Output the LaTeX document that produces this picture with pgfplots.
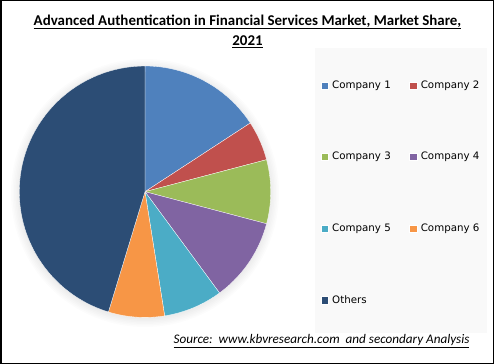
\documentclass[border=0pt]{standalone}
\usepackage{pgfplots}
\pgfplotsset{compat=1.18}
\usepackage{pgfplotstable}
\usepackage{fontspec}
\setmainfont{Carlito}
\newfontfamily\legfont{DejaVu Sans}
\definecolor{c1}{HTML}{4F81BD}
\definecolor{c2}{HTML}{C0504D}
\definecolor{c3}{HTML}{9BBB59}
\definecolor{c4}{HTML}{8064A2}
\definecolor{c5}{HTML}{4BACC6}
\definecolor{c6}{HTML}{F79646}
\definecolor{c7}{HTML}{2C4D75}
\definecolor{legbg}{HTML}{F9F9F9}
% market shares (%)
\pgfplotstableread{
name share
C1 15.8
C2 5.1
C3 8.2
C4 10.8
C5 7.6
C6 7.2
Others 45.3
}\shares
\pgfplotstablegetelem{0}{share}\of\shares \pgfmathsetmacro\sA{\pgfplotsretval}
\pgfplotstablegetelem{1}{share}\of\shares \pgfmathsetmacro\sB{\sA+\pgfplotsretval}
\pgfplotstablegetelem{2}{share}\of\shares \pgfmathsetmacro\sC{\sB+\pgfplotsretval}
\pgfplotstablegetelem{3}{share}\of\shares \pgfmathsetmacro\sD{\sC+\pgfplotsretval}
\pgfplotstablegetelem{4}{share}\of\shares \pgfmathsetmacro\sE{\sD+\pgfplotsretval}
\pgfplotstablegetelem{5}{share}\of\shares \pgfmathsetmacro\sF{\sE+\pgfplotsretval}
\pgfplotstablegetelem{6}{share}\of\shares \pgfmathsetmacro\sG{\sF+\pgfplotsretval}
\def\cx{145}\def\cy{191.7}\def\rad{125.7}
\begin{document}
\begin{tikzpicture}
\begin{axis}[
  width=494bp, height=364bp, scale only axis,
  xmin=0, xmax=494, ymin=0, ymax=364, y dir=reverse,
  hide axis, clip=false,
  legend columns=2, legend cell align=left,
  legend image code/.code={\fill[#1] (0bp,-3.6bp) rectangle (7.2bp,3.6bp);},
  legend style={draw=none, fill=none, at={(axis cs:320.5,79)}, anchor=north west,
    font=\legfont\fontsize{10.3}{12}\selectfont, row sep=59.5bp, inner sep=0pt,
    /tikz/every even column/.append style={column sep=17bp},
    /tikz/every odd column/.append style={column sep=2.5bp},
    nodes={inner sep=1.5bp}},
  slice/.style={draw=white, line width=0.3bp, samples=60, variable=\t},
]
% background decorations
\fill[legbg] (axis cs:315,48) rectangle (axis cs:487,333);
\pgfplotsinvokeforeach{126.5,128,129.5,131,132.5,134}{
  \fill[black, opacity=0.013] (axis cs:145,193) circle[radius=#1bp];
}
% slices
\addplot[slice, fill=c1, domain=0:\sA] ({\cx+\rad*sin(\t*3.6)}, {\cy-\rad*cos(\t*3.6)}) -- (axis cs:145,191.7) -- cycle;
\addlegendentry{Company 1}
\addplot[slice, fill=c2, domain=\sA:\sB] ({\cx+\rad*sin(\t*3.6)}, {\cy-\rad*cos(\t*3.6)}) -- (axis cs:145,191.7) -- cycle;
\addlegendentry{Company 2}
\addplot[slice, fill=c3, domain=\sB:\sC] ({\cx+\rad*sin(\t*3.6)}, {\cy-\rad*cos(\t*3.6)}) -- (axis cs:145,191.7) -- cycle;
\addlegendentry{Company 3}
\addplot[slice, fill=c4, domain=\sC:\sD] ({\cx+\rad*sin(\t*3.6)}, {\cy-\rad*cos(\t*3.6)}) -- (axis cs:145,191.7) -- cycle;
\addlegendentry{Company 4}
\addplot[slice, fill=c5, domain=\sD:\sE] ({\cx+\rad*sin(\t*3.6)}, {\cy-\rad*cos(\t*3.6)}) -- (axis cs:145,191.7) -- cycle;
\addlegendentry{Company 5}
\addplot[slice, fill=c6, domain=\sE:\sF] ({\cx+\rad*sin(\t*3.6)}, {\cy-\rad*cos(\t*3.6)}) -- (axis cs:145,191.7) -- cycle;
\addlegendentry{Company 6}
\addplot[slice, fill=c7, domain=\sF:\sG] ({\cx+\rad*sin(\t*3.6)}, {\cy-\rad*cos(\t*3.6)}) -- (axis cs:145,191.7) -- cycle;
\addlegendentry{Others}
% texts
\node[font=\bfseries\fontsize{15}{17}\selectfont] at (axis cs:247.5,22) {\underline{Advanced Authentication in Financial Services Market, Market Share,}};
\node[font=\bfseries\fontsize{15}{17}\selectfont] at (axis cs:247.5,42) {\underline{2021}};
\node[font=\itshape\fontsize{13.2}{15}\selectfont] at (axis cs:321.5,341) {\underline{Source:\ \ www.kbvresearch.com\ \ and secondary Analysis}};
% frame
\draw[black, line width=1.5bp] (axis cs:0.75,0.75) rectangle (axis cs:493.25,363.25);
\end{axis}
\pgfresetboundingbox
\path (current axis.south west) rectangle (current axis.north east);
\end{tikzpicture}
\end{document}
